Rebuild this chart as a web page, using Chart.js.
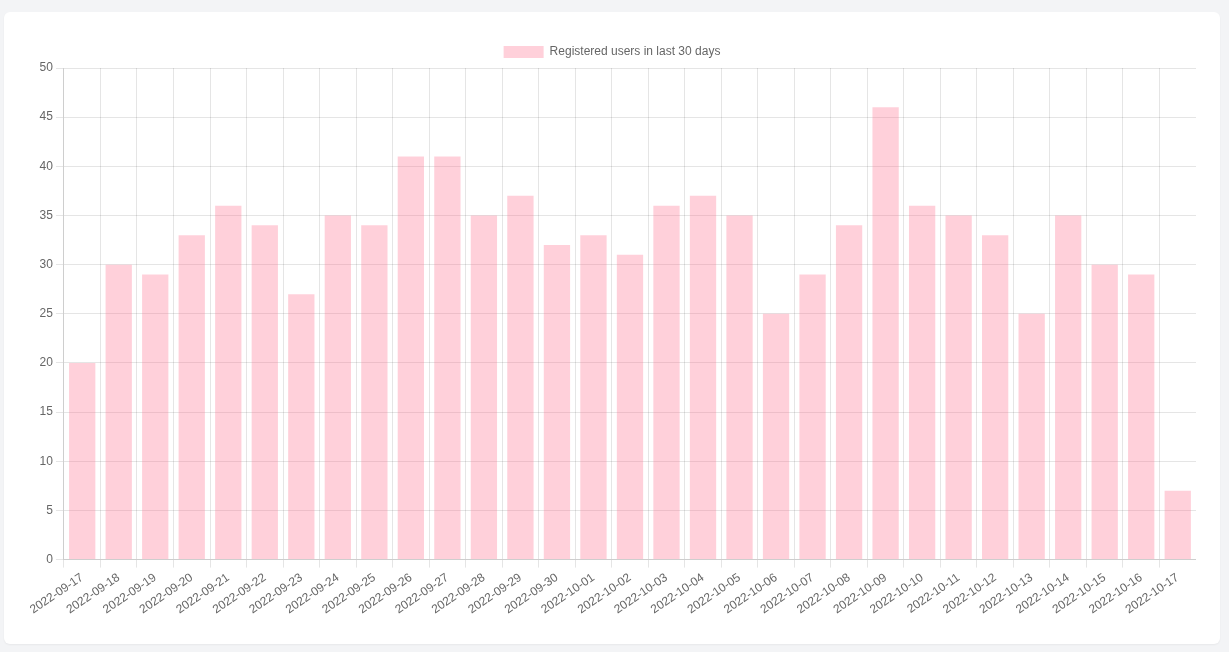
<!DOCTYPE html>
<html>
<head>
<meta charset="utf-8">
<script src="https://cdn.jsdelivr.net/npm/chart.js@4"></script>
<style>
    body { margin: 0; background: #f3f4f6; }
    .card {
        position: absolute; left: 4px; top: 12px;
        width: 1216px; height: 632px; box-sizing: border-box;
        padding: 24px; background: #fff; border-radius: 6px;
        box-shadow: 0 1px 2px rgba(0,0,0,0.05);
    }
    .wrap { position: relative; width: 100%; height: 100%; }
</style>
</head>
<body>
<div class="card"><div class="wrap"><canvas id="chart-bar"></canvas></div></div>
<script>
const days = [
    '2022-09-17', '2022-09-18', '2022-09-19', '2022-09-20', '2022-09-21', '2022-09-22',
    '2022-09-23', '2022-09-24', '2022-09-25', '2022-09-26', '2022-09-27', '2022-09-28',
    '2022-09-29', '2022-09-30', '2022-10-01', '2022-10-02', '2022-10-03', '2022-10-04',
    '2022-10-05', '2022-10-06', '2022-10-07', '2022-10-08', '2022-10-09', '2022-10-10',
    '2022-10-11', '2022-10-12', '2022-10-13', '2022-10-14', '2022-10-15', '2022-10-16',
    '2022-10-17'
]
const registered = [
    20, 30, 29, 33, 36, 34, 27, 35, 34, 41, 41, 35, 37, 32, 33, 31,
    36, 37, 35, 25, 29, 34, 46, 36, 35, 33, 25, 35, 30, 29, 7
]

new Chart(document.querySelector('#chart-bar'), {
    type: 'bar',
    data: {
        labels: days,
        datasets: [{
            label: 'Registered users in last 30 days',
            data: registered,
            backgroundColor: 'rgba(255, 99, 132, 0.3)'
        }]
    },
    options: {
        responsive: true,
        maintainAspectRatio: false,
        animation: false,
        scales: {
            y: { beginAtZero: true, max: 50, ticks: { stepSize: 5 } }
        }
    }
});
</script>
</body>
</html>
